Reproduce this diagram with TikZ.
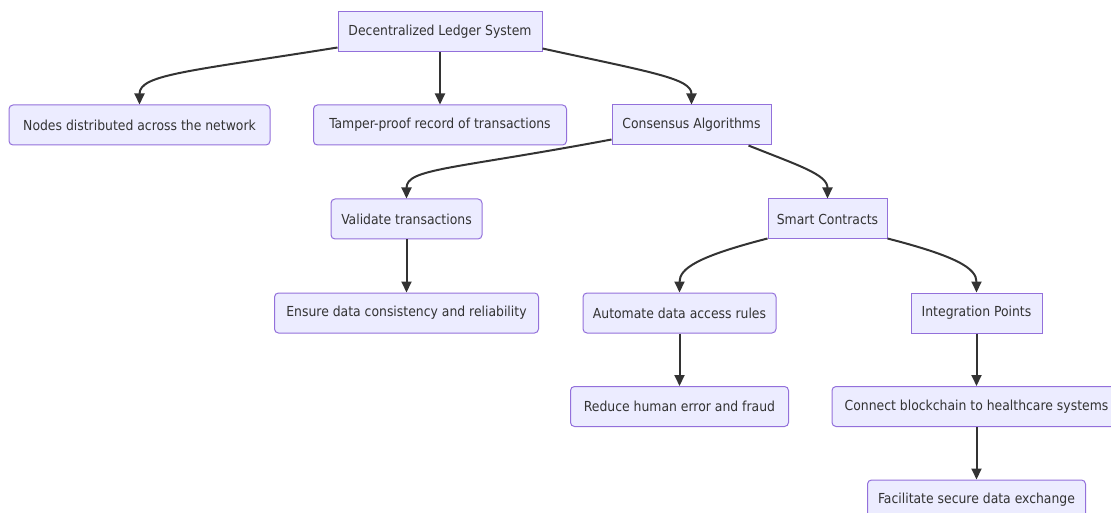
\documentclass[tikz,border=0pt]{standalone}
\usepackage{fontspec}
\setmainfont{DejaVu Sans Condensed}
\usetikzlibrary{arrows.meta}
\definecolor{boxfill}{HTML}{ECECFF}
\definecolor{boxline}{HTML}{9370DB}
\definecolor{ink}{HTML}{333333}
\tikzset{
  base/.style={draw=boxline, fill=boxfill, line width=1pt, text=ink,
    minimum height=40pt, inner sep=0pt, font=\fontsize{13.8}{16}\selectfont},
  sqbox/.style={base},
  rdbox/.style={base, rounded corners=4pt},
  link/.style={draw=ink, line width=2pt, -{Triangle[length=11pt,width=10pt]}}
}
\begin{document}
\begin{tikzpicture}[x=1pt,y=-1pt]
\useasboundingbox (0,0) rectangle (1111,513);
\clip (0,0) rectangle (1111,513);
% nodes
\node[sqbox, minimum width=204pt] (dls) at (440,32) {Decentralized Ledger System};
\node[rdbox, minimum width=261pt] (dist) at (139.5,125) {Nodes distributed across the network};
\node[rdbox, minimum width=253pt] (tamp) at (440,125) {Tamper-proof record of transactions};
\node[sqbox, minimum width=159pt] (cons) at (691.5,125) {Consensus Algorithms};
\node[rdbox, minimum width=151pt] (vali) at (406.5,219) {Validate transactions};
\node[sqbox, minimum width=119pt] (smart) at (827.5,219) {Smart Contracts};
\node[rdbox, minimum width=264pt] (ens) at (406.5,313) {Ensure data consistency and reliability};
\node[rdbox, minimum width=193pt] (auto) at (679.5,313) {Automate data access rules};
\node[sqbox, minimum width=131pt] (integ) at (976.5,313) {Integration Points};
\node[rdbox, minimum width=218pt] (red) at (679.5,406.5) {Reduce human error and fraud};
\node[rdbox, minimum width=289pt] (conn) at (976.5,406.5) {Connect blockchain to healthcare systems};
\node[rdbox, minimum width=218pt] (fac) at (976.5,500) {Facilitate secure data exchange};
% connectors (yshift is in page units: positive moves up)
\draw[link] ([yshift=5pt]dls.south west) .. controls +(-150,24) and +(0,-30) .. (dist.north);
\draw[link] (dls.south) -- (dls.south |- tamp.north);
\draw[link] ([yshift=4pt]dls.south east) .. controls +(110,24) and +(0,-26) .. (cons.north);
\draw[link] ([yshift=6pt]cons.south west) .. controls +(-160,30) and +(0,-30) .. (vali.north);
\draw[link] ([xshift=-23pt]cons.south east) .. controls +(50,20) and +(0,-24) .. (smart.north);
\draw[link] ([yshift=1pt]smart.south west) .. controls +(-70,18) and +(0,-24) .. (auto.north);
\draw[link] ([yshift=1pt]smart.south east) .. controls +(70,18) and +(0,-24) .. (integ.north);
\draw[link] (vali.south) -- (vali.south |- ens.north);
\draw[link] (auto.south) -- (auto.south |- red.north);
\draw[link] (integ.south) -- (integ.south |- conn.north);
\draw[link] (conn.south) -- (conn.south |- fac.north);
\end{tikzpicture}
\end{document}
